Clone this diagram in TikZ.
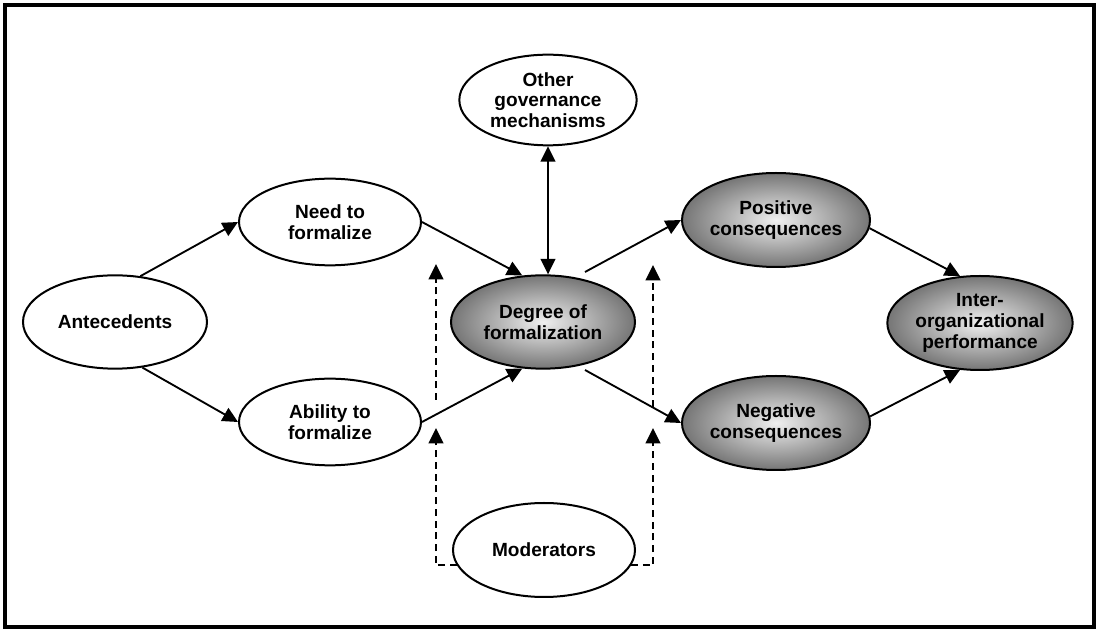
\documentclass[tikz,border=0pt]{standalone}
\usepackage{fontspec}
\setmainfont{Liberation Sans}
\usetikzlibrary{arrows.meta,shapes.geometric,calc}
\begin{document}
\begin{tikzpicture}[x=0.75pt,y=-0.75pt,
  every node/.style={font=\fontsize{14.3}{15.6}\selectfont\bfseries, align=center},
  plainell/.style={ellipse, draw, line width=1.5pt, inner sep=0pt, fill=white},
  shadeell/.style={ellipse, draw, line width=1.5pt, inner sep=0pt, inner color=black!6, outer color=black!54},
  conn/.style={line width=1.4pt, -{Triangle[length=11.5pt,width=11pt]}},
  biconn/.style={line width=1.4pt, {Triangle[length=11.5pt,width=11pt]}-{Triangle[length=11.5pt,width=11pt]}},
  dconn/.style={line width=1.4pt, dash pattern=on 5.2pt off 3.6pt, -{Triangle[length=11.5pt,width=11pt]}}
]
\useasboundingbox (0,0) rectangle (1101,630);
\draw[line width=3pt] (5,5.5) rectangle (1094,627.5);

\node[plainell, minimum width=138pt, minimum height=70pt] (ant) at (115,322) {Antecedents};
\node[plainell, minimum width=136.5pt, minimum height=65pt] (need) at (330,222) {Need to\\formalize};
\node[plainell, minimum width=136.5pt, minimum height=65pt] (abil) at (330,422) {Ability to\\formalize};
\node[shadeell, minimum width=138pt, minimum height=70pt] (deg) at (543,322) {Degree of\\formalization};
\node[plainell, minimum width=133pt, minimum height=68pt] (other) at (548,100) {Other\\governance\\mechanisms};
\node[shadeell, minimum width=141pt, minimum height=70.5pt] (pos) at (776,220) {Positive\\consequences};
\node[shadeell, minimum width=141pt, minimum height=70.5pt] (neg) at (776,423) {Negative\\consequences};
\node[shadeell, minimum width=139pt, minimum height=70.5pt] (inter) at (980,323) {Inter-\\organizational\\performance};
\node[plainell, minimum width=136.5pt, minimum height=70.5pt] (mod) at (544,550) {Moderators};

\draw[conn] (ant.61) -- (need.west);
\draw[conn] (ant.-59) -- (abil.west);
\draw[conn] (need.east) -- (deg.114);
\draw[conn] (abil.east) -- (deg.-114);
\draw[biconn] (other.south) -- (deg.north -| other.south);
\draw[conn] ($(deg.center)+(42,-50)$) -- (pos.west);
\draw[conn] ($(deg.center)+(42,48)$) -- (neg.west);
\draw[conn] (pos.-5) -- (inter.113);
\draw[conn] (neg.4) -- (inter.-113);

\coordinate (dLt) at (436,264);
\coordinate (dLb) at (436,400);
\coordinate (dLa) at (436,428);
\coordinate (dRt) at (653,265);
\coordinate (dRb) at (653,407);
\coordinate (dRa) at (653,428);
\draw[dconn] (dLb) -- (dLt);
\draw[dconn] (dRb) -- (dRt);
\draw[dconn] (mod.190) -| (dLa);
\draw[dconn] (mod.-10) -| (dRa);
\end{tikzpicture}
\end{document}
